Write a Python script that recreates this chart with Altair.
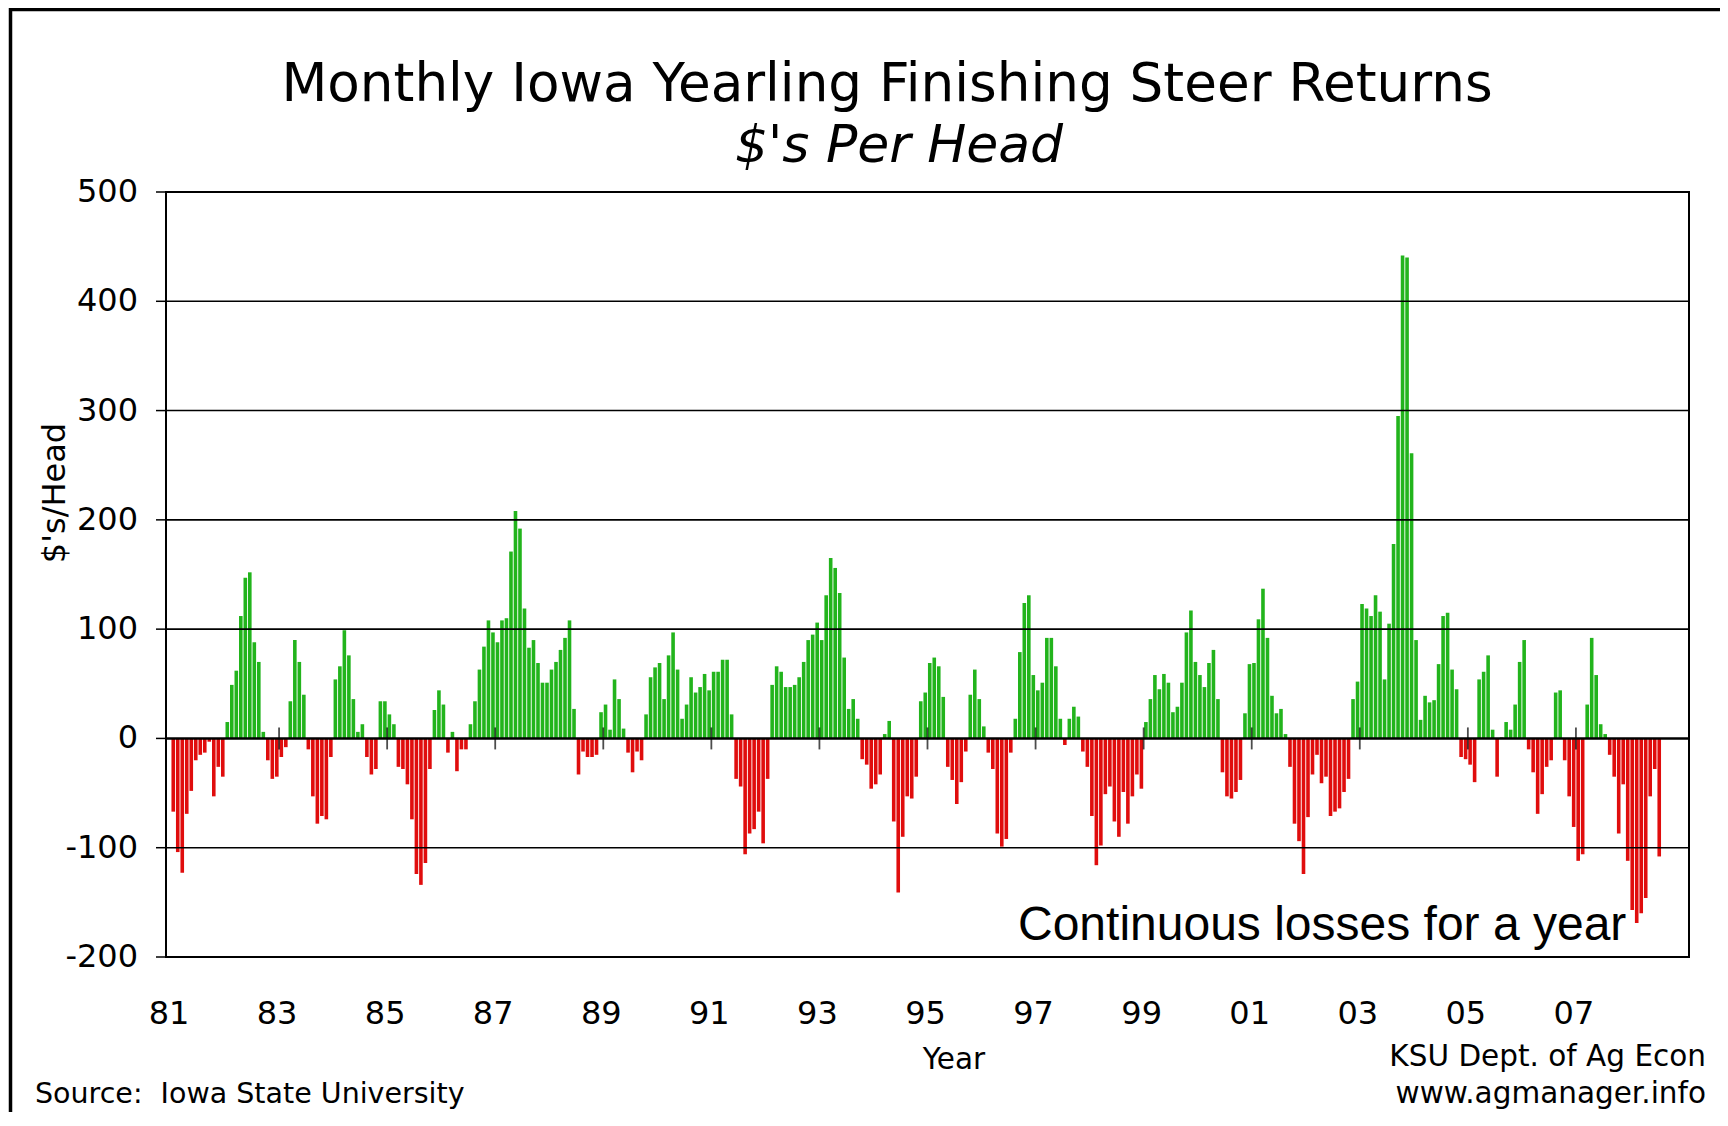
import altair as alt
import pandas as pd

# ---- data (monthly returns, $ per head, Jan 1981 - Jul 2008) ----
r1981 = [-67, -104, -123, -69, -48, -20, -15, -13, -3, -53, -26, -35]
r1982 = [15, 49, 62, 112, 147, 152, 88, 70, 6, -20, -37, -35]
r1983 = [-17, -8, 34, 90, 70, 40, -10, -53, -78, -71, -74, -17]
r1984 = [54, 66, 99, 76, 36, 6, 13, -17, -33, -28, 34, 34]
r1985 = [22, 13, -26, -28, -42, -74, -124, -134, -114, -28, 26, 44]
r1986 = [31, -13, 6, -30, -10, -10, 13, 34, 63, 84, 108, 97]
r1987 = [88, 108, 110, 171, 208, 192, 119, 83, 90, 69, 51, 51]
r1988 = [63, 70, 81, 92, 108, 27, -33, -12, -17, -17, -15, 24]
r1989 = [31, 8, 54, 36, 9, -13, -31, -12, -20, 22, 56, 65]
r1990 = [69, 36, 76, 97, 63, 18, 31, 56, 42, 47, 59, 44]
r1991 = [61, 61, 72, 72, 22, -37, -44, -106, -87, -83, -67, -96]
r1992 = [-37, 49, 66, 61, 47, 47, 49, 56, 70, 90, 95, 106]
r1993 = [90, 131, 165, 156, 133, 74, 27, 36, 18, -19, -24, -46]
r1994 = [-42, -33, 4, 16, -76, -141, -90, -53, -55, -35, 34, 42]
r1995 = [69, 74, 66, 38, -26, -38, -60, -40, -12, 40, 63, 36]
r1996 = [11, -13, -28, -87, -99, -92, -13, 18, 79, 124, 131, 58]
r1997 = [44, 51, 92, 92, 66, 18, -6, 18, 29, 20, -12, -26]
r1998 = [-71, -116, -98, -51, -44, -76, -90, -49, -78, -53, -33, -46]
r1999 = [15, 36, 58, 45, 59, 51, 24, 29, 51, 97, 117, 70]
r2000 = [58, 47, 69, 81, 36, -31, -53, -55, -49, -38, 23, 68]
r2001 = [69, 109, 137, 92, 39, 23, 27, 4, -26, -78, -94, -124]
r2002 = [-72, -33, -15, -41, -35, -71, -67, -64, -49, -37, 36, 52]
r2003 = [123, 119, 112, 131, 116, 54, 105, 178, 295, 442, 440, 261]
r2004 = [90, 17, 39, 33, 35, 68, 112, 115, 63, 45, -17, -19]
r2005 = [-24, -40, 54, 61, 76, 8, -35, 1, 15, 8, 31, 70]
r2006 = [90, -10, -31, -69, -51, -26, -20, 42, 44, -20, -53, -81]
r2007 = [-112, -106, 31, 92, 58, 13, 4, -15, -35, -87, -42, -112]
r2008 = [-157, -169, -160, -146, -53, -28, -108]

tick_labels = ["81", "83", "85", "87", "89", "91", "93", "95", "97", "99",
               "01", "03", "05", "07"]
y_ticks = [-200, -100, 0, 100, 200, 300, 400, 500]
grid_values = [-100, 100, 200, 300, 400]

values = (r1981 + r1982 + r1983 + r1984 + r1985 + r1986 + r1987 + r1988 + r1989 +
          r1990 + r1991 + r1992 + r1993 + r1994 + r1995 + r1996 + r1997 + r1998 +
          r1999 + r2000 + r2001 + r2002 + r2003 + r2004 + r2005 + r2006 + r2007 + r2008)

df = pd.DataFrame({"month": list(range(len(values))), "value": values})
df["mid"] = df["month"] + 0.5
df["sign"] = ["gain" if v >= 0 else "loss" for v in df["value"]]

ticks_df = pd.DataFrame({"month": [24 * i for i in range(len(tick_labels))],
                         "label": tick_labels})
ticks_df["zero"] = 0
ylab_df = pd.DataFrame({"v": y_ticks, "lab": [str(v) for v in y_ticks]})
grid_df = pd.DataFrame({"g": grid_values})
zero_df = pd.DataFrame({"z": [0]})
one = pd.DataFrame({"k": [0]})

W, H = 1523, 765
GREEN, RED = "#22B41C", "#E00D0D"
FONT = "DejaVu Sans"

xs = alt.Scale(domain=[0, 336], nice=False, zero=False)
ys = alt.Scale(domain=[-200, 500], nice=False, zero=False)

bars = alt.Chart(df).mark_bar(width=3.6).encode(
    x=alt.X("mid:Q", scale=xs, axis=None),
    y=alt.Y("value:Q", scale=ys, axis=None),
    y2=alt.datum(0),
    color=alt.Color("sign:N", scale=alt.Scale(domain=["gain", "loss"],
                                              range=[GREEN, RED]), legend=None),
)

grid = alt.Chart(grid_df).mark_rule(color="black", strokeWidth=1.6).encode(
    y=alt.Y("g:Q", scale=ys, axis=None))

zero = alt.Chart(zero_df).mark_rule(color="black", strokeWidth=2.6).encode(
    y=alt.Y("z:Q", scale=ys, axis=None))

zticks = alt.Chart(ticks_df[ticks_df["month"] > 0]).mark_tick(
    orient="vertical", size=22, thickness=1.8, color="black").encode(
    x=alt.X("month:Q", scale=xs, axis=None),
    y=alt.Y("zero:Q", scale=ys, axis=None))

xlabels = alt.Chart(ticks_df).mark_text(
    font=FONT, fontSize=32, baseline="middle", align="center", color="black",
    dx=-2).encode(
    x=alt.X("month:Q", scale=xs, axis=None),
    y=alt.value(H + 57),
    text="label:N")

ylabels = alt.Chart(ylab_df).mark_text(
    font=FONT, fontSize=32, baseline="middle", align="right", color="black").encode(
    x=alt.value(-28),
    y=alt.Y("v:Q", scale=ys, axis=None),
    text="lab:N")

yticks = alt.Chart(ylab_df).mark_rule(color="black", strokeWidth=1.5).encode(
    x=alt.value(-10), x2=alt.value(0),
    y=alt.Y("v:Q", scale=ys, axis=None))


def txt(s, x, y, size, align="center", font=FONT, style="normal", angle=0,
        baseline="alphabetic"):
    return alt.Chart(one).mark_text(
        text=s, font=font, fontSize=size, align=align, baseline=baseline,
        fontStyle=style, angle=angle, color="black").encode(
        x=alt.value(x), y=alt.value(y))


title = txt("Monthly Iowa Yearling Finishing Steer Returns", 721, -91, 53.2)
subtitle = txt("$'s Per Head", 733, -30, 52, style="italic")
ytitle = txt("$'s/Head", -111, 301, 32, angle=270, baseline="middle")
xtitle = txt("Year", 788, 868, 29.5, baseline="middle")
note = txt("Continuous losses for a year", 852, 748, 48, align="left",
           font="Liberation Sans")
source = txt("Source:\u00a0 Iowa State University", -131, 911, 28.5, align="left")
ksu1 = txt("KSU Dept. of Ag Econ", 1540, 874, 29.5, align="right")
ksu2 = txt("www.agmanager.info", 1540, 911, 29.5, align="right")

frame_left = alt.Chart(one).mark_rule(color="black", strokeWidth=3.5).encode(
    x=alt.value(-155.5), y=alt.value(-184), y2=alt.value(925))
frame_top = alt.Chart(one).mark_rule(color="black", strokeWidth=3.5).encode(
    x=alt.value(-157), x2=alt.value(1560), y=alt.value(-182.5))

chart = alt.layer(
    bars, grid, zero, zticks, xlabels, ylabels, yticks, title, subtitle, ytitle,
    xtitle, note, source, ksu1, ksu2, frame_left, frame_top
).properties(
    width=W, height=H,
    autosize=alt.AutoSizeParams(type="none"),
    padding={"left": 158, "top": 184, "right": 31, "bottom": 155},
    background="white",
).configure_view(stroke="black", strokeWidth=2)

chart.save("out.html", embed_options={"renderer": "svg", "actions": False})
